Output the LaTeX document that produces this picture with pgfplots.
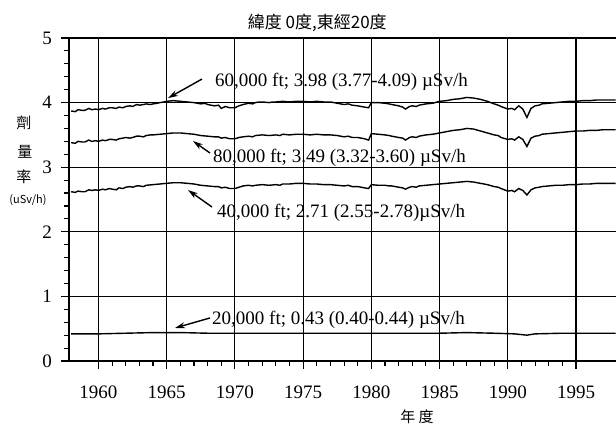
\documentclass[border=0pt]{standalone}
\usepackage{pgfplots}
\pgfplotsset{compat=1.18}
\usepackage{pgfplotstable}
\usetikzlibrary{arrows.meta}
\usepackage{fontspec}
\setmainfont{Liberation Serif}
\newfontfamily\cjk{Noto Sans CJK TC}
\newfontfamily\tnr{Liberation Serif}

\pgfplotstableread{
x y
1958.0 3.87
1958.3 3.86
1958.5 3.89
1958.8 3.88
1959.0 3.88
1959.3 3.91
1959.5 3.89
1959.8 3.90
1960.0 3.89
1960.3 3.91
1960.5 3.90
1960.8 3.92
1961.0 3.92
1961.3 3.91
1961.5 3.93
1961.8 3.92
1962.0 3.94
1962.3 3.95
1962.5 3.94
1962.8 3.97
1963.0 3.96
1963.3 3.97
1963.5 3.98
1963.8 3.97
1964.0 3.98
1964.3 3.99
1964.5 4.00
1964.8 4.01
1965.0 4.02
1965.5 4.03
1966.0 4.02
1966.5 4.01
1967.0 4.00
1967.5 3.98
1967.8 3.99
1968.0 3.97
1968.5 3.95
1968.8 3.96
1969.0 3.91
1969.3 3.94
1969.6 3.92
1970.0 3.92
1970.3 3.95
1970.6 3.97
1971.0 3.99
1971.3 3.98
1971.5 4.00
1971.8 4.01
1972.0 4.01
1972.5 4.00
1972.8 4.01
1973.0 4.01
1973.5 4.02
1974.0 4.01
1974.5 4.02
1975.0 4.02
1975.5 4.01
1976.0 4.02
1976.5 4.01
1977.0 4.01
1977.5 3.99
1978.0 3.97
1978.3 3.98
1978.6 3.96
1979.0 3.95
1979.5 3.93
1979.8 3.92
1980.0 4.00
1980.5 4.00
1981.0 3.99
1981.3 3.98
1981.5 3.97
1982.0 3.95
1982.3 3.93
1982.5 3.90
1982.8 3.94
1983.0 3.95
1983.3 3.94
1983.5 3.96
1984.0 3.98
1984.5 3.99
1985.0 4.02
1985.5 4.03
1986.0 4.05
1986.5 4.06
1987.0 4.08
1987.5 4.07
1988.0 4.05
1988.5 4.02
1989.0 3.98
1989.3 3.96
1989.5 3.94
1990.0 3.90
1990.3 3.91
1990.5 3.89
1990.8 3.95
1991.1 3.90
1991.4 3.77
1991.7 3.91
1992.0 3.95
1992.3 3.96
1992.5 3.98
1993.0 3.99
1993.5 4.00
1994.0 4.01
1994.5 4.02
1995.0 4.02
1995.5 4.03
1996.0 4.03
1996.5 4.04
1997.0 4.04
1997.5 4.04
1997.9 4.04
}\sixty

\pgfplotstableread{
x y
1958.0 3.38
1958.3 3.37
1958.5 3.40
1958.8 3.39
1959.0 3.39
1959.3 3.42
1959.5 3.40
1959.8 3.41
1960.0 3.40
1960.3 3.42
1960.5 3.41
1960.8 3.43
1961.0 3.43
1961.3 3.42
1961.5 3.44
1961.8 3.45
1962.0 3.46
1962.3 3.45
1962.5 3.46
1962.8 3.48
1963.0 3.48
1963.3 3.47
1963.5 3.49
1963.8 3.50
1964.0 3.50
1964.5 3.51
1965.0 3.52
1965.5 3.53
1966.0 3.53
1966.5 3.52
1967.0 3.51
1967.5 3.49
1968.0 3.48
1968.5 3.47
1968.8 3.47
1969.0 3.45
1969.3 3.46
1969.6 3.44
1970.0 3.44
1970.3 3.46
1970.6 3.47
1971.0 3.48
1971.3 3.47
1971.5 3.49
1972.0 3.50
1972.5 3.49
1973.0 3.50
1973.3 3.49
1973.5 3.51
1974.0 3.50
1974.5 3.51
1975.0 3.51
1975.5 3.50
1976.0 3.51
1976.5 3.50
1977.0 3.50
1977.5 3.49
1978.0 3.47
1978.3 3.48
1978.6 3.46
1979.0 3.46
1979.5 3.44
1979.8 3.42
1980.0 3.52
1980.5 3.51
1981.0 3.50
1981.3 3.49
1981.5 3.48
1982.0 3.46
1982.3 3.45
1982.5 3.42
1982.8 3.46
1983.0 3.47
1983.3 3.46
1983.5 3.48
1984.0 3.50
1984.5 3.51
1985.0 3.53
1985.5 3.55
1986.0 3.57
1986.5 3.58
1987.0 3.60
1987.5 3.59
1988.0 3.56
1988.5 3.53
1989.0 3.50
1989.3 3.49
1989.5 3.46
1990.0 3.43
1990.3 3.44
1990.5 3.42
1990.8 3.47
1991.1 3.43
1991.4 3.32
1991.7 3.45
1992.0 3.48
1992.3 3.49
1992.5 3.51
1993.0 3.52
1993.5 3.53
1994.0 3.54
1994.5 3.55
1995.0 3.56
1995.5 3.56
1996.0 3.57
1996.5 3.57
1997.0 3.58
1997.5 3.58
1997.9 3.58
}\eighty

\pgfplotstableread{
x y
1958.0 2.62
1958.3 2.61
1958.5 2.63
1958.8 2.62
1959.0 2.62
1959.3 2.65
1959.5 2.64
1959.8 2.65
1960.0 2.64
1960.3 2.66
1960.5 2.65
1960.8 2.67
1961.0 2.66
1961.3 2.65
1961.5 2.68
1961.8 2.67
1962.0 2.69
1962.3 2.70
1962.5 2.69
1962.8 2.71
1963.0 2.71
1963.3 2.70
1963.5 2.72
1964.0 2.73
1964.5 2.74
1965.0 2.75
1965.5 2.76
1966.0 2.76
1966.5 2.75
1967.0 2.74
1967.5 2.72
1968.0 2.71
1968.5 2.70
1968.8 2.70
1969.0 2.68
1969.3 2.69
1969.6 2.67
1970.0 2.67
1970.3 2.69
1970.6 2.71
1971.0 2.72
1971.3 2.71
1971.5 2.72
1972.0 2.73
1972.5 2.72
1973.0 2.73
1973.3 2.72
1973.5 2.74
1974.0 2.74
1974.5 2.75
1975.0 2.75
1975.5 2.74
1976.0 2.74
1976.5 2.73
1977.0 2.73
1977.5 2.72
1978.0 2.71
1978.3 2.72
1978.6 2.70
1979.0 2.70
1979.5 2.68
1979.8 2.67
1980.0 2.73
1980.5 2.72
1981.0 2.72
1981.3 2.71
1981.5 2.71
1982.0 2.69
1982.3 2.68
1982.5 2.66
1982.8 2.69
1983.0 2.70
1983.3 2.69
1983.5 2.71
1984.0 2.72
1984.5 2.73
1985.0 2.74
1985.5 2.75
1986.0 2.76
1986.5 2.77
1987.0 2.78
1987.5 2.77
1988.0 2.75
1988.5 2.73
1989.0 2.70
1989.3 2.69
1989.5 2.67
1990.0 2.63
1990.3 2.64
1990.5 2.62
1990.8 2.67
1991.1 2.64
1991.4 2.57
1991.7 2.65
1992.0 2.68
1992.3 2.69
1992.5 2.70
1993.0 2.71
1993.5 2.72
1994.0 2.72
1994.5 2.73
1995.0 2.73
1995.5 2.74
1996.0 2.74
1996.5 2.75
1997.0 2.75
1997.5 2.75
1997.9 2.75
}\forty

\pgfplotstableread{
x y
1958.0 0.42
1960.0 0.42
1962.0 0.43
1964.0 0.44
1966.0 0.44
1968.0 0.43
1970.0 0.43
1972.0 0.43
1975.0 0.43
1978.0 0.43
1980.0 0.43
1983.0 0.43
1985.0 0.43
1987.0 0.44
1989.0 0.43
1990.5 0.42
1991.4 0.40
1992.0 0.42
1994.0 0.43
1996.0 0.43
1997.9 0.43
}\twenty

\begin{document}
\begin{tikzpicture}[x=1pt,y=1pt,
  tklx/.style={anchor=north, inner sep=0pt, yshift=-25pt, font=\tnr\fontsize{19}{19}\selectfont},
  tkly/.style={anchor=east, inner sep=0pt, xshift=-17pt, font=\tnr\fontsize{19}{19}\selectfont}]
\path[use as bounding box] (-69,-64) rectangle (547,361);
\begin{axis}[
  at={(0pt,0pt)}, anchor=south west,
  scale only axis, width=547pt, height=323pt,
  xmin=1957.84, xmax=1997.93, ymin=0, ymax=5,
  axis x line*=bottom, axis y line*=left,
  axis line style={-, black, line width=1.2pt},
  clip=false,
  xtick={1960,1965,...,1995}, ytick={0,1,...,5},
  xticklabels={}, yticklabels={},
  minor x tick num=4, minor y tick num=4,
  grid=major, major grid style={black, line width=1.1pt},
  tick align=outside, major tick length=8pt, minor tick length=5pt,
  tick style={black, line width=1.1pt},
]
\addplot[black, line width=1.4pt] table {\sixty};
\addplot[black, line width=1.4pt] table {\eighty};
\addplot[black, line width=1.4pt] table {\forty};
\addplot[black, line width=1.4pt] table {\twenty};

\node[tklx] at (axis cs:1960,0) {1960};
\node[tklx] at (axis cs:1965,0) {1965};
\node[tklx] at (axis cs:1970,0) {1970};
\node[tklx] at (axis cs:1975,0) {1975};
\node[tklx] at (axis cs:1980,0) {1980};
\node[tklx] at (axis cs:1985,0) {1985};
\node[tklx] at (axis cs:1990,0) {1990};
\node[tklx] at (axis cs:1995,0) {1995};
\node[tkly] at (axis cs:1957.84,0) {0};
\node[tkly] at (axis cs:1957.84,1) {1};
\node[tkly] at (axis cs:1957.84,2) {2};
\node[tkly] at (axis cs:1957.84,3) {3};
\node[tkly] at (axis cs:1957.84,4) {4};
\node[tkly] at (axis cs:1957.84,5) {5};

\node[font=\cjk\fontsize{17}{17}\selectfont] at (axis cs:1976.04,5.235) {緯度 0度,東經20度};
\node[font=\cjk\fontsize{15}{15}\selectfont] at (axis cs:1954.54,3.684) {劑};
\node[font=\cjk\fontsize{15}{15}\selectfont] at (axis cs:1954.61,3.235) {量};
\node[font=\cjk\fontsize{15}{15}\selectfont] at (axis cs:1954.54,2.848) {率};
\node[font=\cjk\fontsize{11}{11}\selectfont] at (axis cs:1954.83,2.492) {(uSv/h)};
\node[font=\cjk\fontsize{15}{15}\selectfont] at (axis cs:1983.35,-0.867) {年\ 度};

\draw[-{Stealth[length=10pt,width=6pt]}, line width=1.4pt] (axis cs:1967.59,4.365) -- (axis cs:1965.10,4.07);
\node[anchor=west, inner sep=0pt, font=\tnr\fontsize{19}{19}\selectfont] at (axis cs:1968.54,4.32) {60,000 ft; 3.98 (3.77-4.09) µSv/h};
\draw[-{Stealth[length=10pt,width=6pt]}, line width=1.4pt] (axis cs:1968.17,3.22) -- (axis cs:1966.93,3.405);
\node[anchor=west, inner sep=0pt, font=\tnr\fontsize{19}{19}\selectfont] at (axis cs:1968.39,3.14) {80,000 ft; 3.49 (3.32-3.60) µSv/h};
\draw[-{Stealth[length=10pt,width=6pt]}, line width=1.4pt] (axis cs:1968.32,2.384) -- (axis cs:1966.56,2.647);
\node[anchor=west, inner sep=0pt, font=\tnr\fontsize{19}{19}\selectfont] at (axis cs:1968.69,2.29) {40,000 ft; 2.71 (2.55-2.78)µSv/h};
\draw[-{Stealth[length=10pt,width=6pt]}, line width=1.4pt] (axis cs:1968.17,0.666) -- (axis cs:1965.61,0.511);
\node[anchor=west, inner sep=0pt, font=\tnr\fontsize{19}{19}\selectfont] at (axis cs:1968.32,0.635) {20,000 ft; 0.43 (0.40-0.44) µSv/h};
\end{axis}
\end{tikzpicture}
\end{document}
